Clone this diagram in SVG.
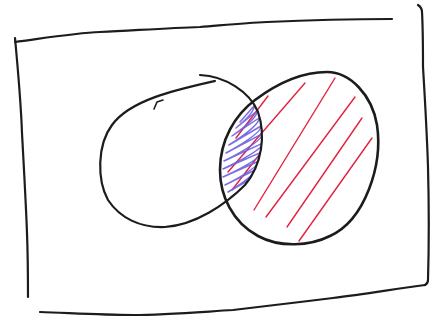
<svg xmlns="http://www.w3.org/2000/svg" width="445" height="322" viewBox="0 0 445 322">
  <style>
    .ink { fill: none; stroke: #1c1c1c; stroke-linecap: round; stroke-linejoin: round; }
    .red { fill: none; stroke: #e3223f; stroke-width: 1.4; stroke-linecap: round; }
    .blue { fill: none; stroke: #6a5ee0; stroke-width: 1.5; stroke-linecap: round; stroke-linejoin: round; opacity: 0.9; }
  </style>
  <defs>
    <clipPath id="clipB">
      <path d="M327,72 C350,72 372,95 377,125 C383,165 365,220 330,236 C310,246 280,248 258,236 C232,222 220,195 220,170 C220,140 235,115 255,100 C275,85 300,72 327,72 Z"/>
    </clipPath>
    <clipPath id="clipA">
      <path d="M215,81 C175,90 130,100 112,125 C97,145 97,180 108,200 C120,218 140,228 165,227 C195,225 225,205 245,185 C262,165 266,135 258,112 C250,92 225,76 200,75 Z"/>
    </clipPath>
  </defs>
  <rect width="445" height="322" fill="#ffffff"/>

  <g id="frame">
    <path class="ink" stroke-width="2.2" d="M15,42 C45,38 75,33 100,32 C140,30 170,28 200,27 C225,25 245,23 267,22 C310,20 350,19 392,19"/>
    <path class="ink" stroke-width="2.2" d="M15,38 C18,70 21,105 22,133 C24,170 26,205 27,233 C28,260 28,280 28,297"/>
    <path class="ink" stroke-width="2.2" d="M418,5 C421,7 422,9 422,12 C423,30 423,50 423,67 C425,100 427,135 428,167 C429,205 429,245 428,280 C428,283 427,284 425,285"/>
    <path class="ink" stroke-width="2.2" d="M40,312 C70,313 100,315 133,315 C165,315 200,312 233,310 C268,306 300,302 333,298 C365,294 395,289 425,285"/>
  </g>

  <g id="hatch-red">
    <line class="red" x1="268" y1="96" x2="236" y2="138"/>
    <line class="red" x1="305" y1="83" x2="228" y2="172"/>
    <line class="red" x1="259" y1="155" x2="232" y2="190"/>
    <line class="red" x1="335" y1="78" x2="254" y2="210"/>
    <line class="red" x1="355" y1="97" x2="266" y2="217"/>
    <line class="red" x1="362" y1="118" x2="287" y2="227"/>
    <line class="red" x1="372" y1="138" x2="299" y2="241"/>
  </g>

  <g id="hatch-blue" clip-path="url(#clipB)">
    <g clip-path="url(#clipA)">
      <path class="blue" d="M240,122 L254,106 Q255,112 236,128 L257,111 Q258,118 232,136 L259,118 Q260,125 229,145 L261,126 Q262,133 226,153 L262,134 Q263,141 224,161 L263,143 Q263,150 223,169 L262,152 Q261,159 223,177 L259,161 Q258,168 225,185 L255,170 Q253,177 228,192 L249,180 Q246,187 231,197"/>
    </g>
  </g>

  <g id="set-a">
    <path class="ink" stroke-width="2.2" d="M215,81 C175,90 130,100 112,125 C97,145 97,180 108,200 C120,218 140,228 165,227 C195,225 225,205 245,185 C262,165 266,135 258,112 C250,92 225,76 200,75"/>
    <path class="ink" stroke-width="1.6" d="M154,109 L157,102 L163,100"/>
  </g>

  <g id="set-b">
    <path class="ink" stroke-width="2.6" d="M327,72 C350,72 372,95 377,125 C383,165 365,220 330,236 C310,246 280,248 258,236 C232,222 220,195 220,170 C220,140 235,115 255,100 C275,85 300,72 327,72 Z"/>
  </g>
</svg>
